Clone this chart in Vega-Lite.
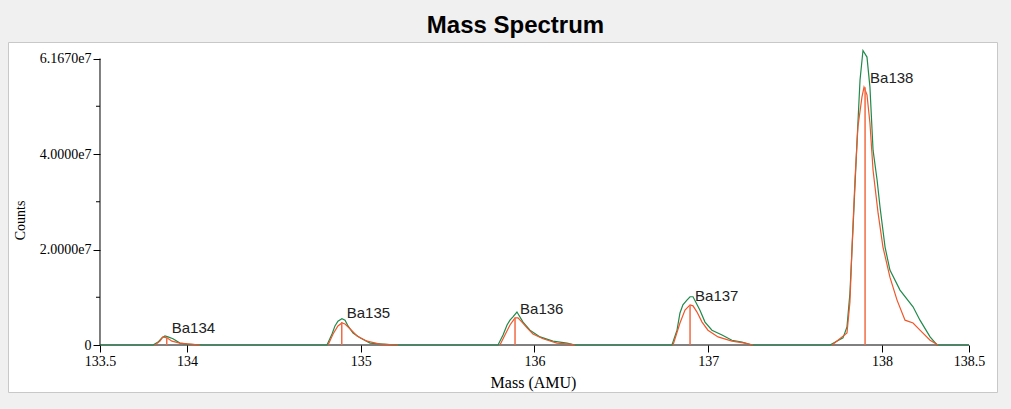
{
  "$schema": "https://vega.github.io/schema/vega-lite/v6.json",
  "autosize": "none",
  "padding": {"left": 8, "top": 42, "right": 14, "bottom": 17},
  "width": 989,
  "height": 350,
  "background": "#f0f0f0",
  "view": {"fill": "white", "stroke": "#c8c8c8", "strokeWidth": 1},
  "title": {"text": "Mass Spectrum", "font": "Liberation Sans", "fontSize": 24, "fontWeight": "bold", "color": "black", "anchor": "middle", "offset": 4, "dx": 13},
  "datasets": {
    "green": [
      {"mass": 133.5, "counts": 0},
      {"mass": 133.805, "counts": 0}, {"mass": 133.834, "counts": 600000}, {"mass": 133.857, "counts": 1500000}, {"mass": 133.874, "counts": 1900000}, {"mass": 133.891, "counts": 1700000}, {"mass": 133.92, "counts": 1300000}, {"mass": 133.96, "counts": 400000}, {"mass": 134.001, "counts": 200000}, {"mass": 134.093, "counts": 0},
      {"mass": 134.806, "counts": 0}, {"mass": 134.835, "counts": 2300000}, {"mass": 134.852, "counts": 4000000}, {"mass": 134.869, "counts": 5000000}, {"mass": 134.892, "counts": 5500000}, {"mass": 134.91, "counts": 5200000}, {"mass": 134.927, "counts": 4000000}, {"mass": 134.956, "counts": 2500000}, {"mass": 134.996, "counts": 1500000}, {"mass": 135.054, "counts": 400000}, {"mass": 135.128, "counts": 200000}, {"mass": 135.209, "counts": 0},
      {"mass": 135.79, "counts": 0}, {"mass": 135.819, "counts": 2100000}, {"mass": 135.842, "counts": 4200000}, {"mass": 135.859, "counts": 5200000}, {"mass": 135.876, "counts": 5900000}, {"mass": 135.899, "counts": 6900000}, {"mass": 135.934, "counts": 4800000}, {"mass": 135.974, "counts": 3100000}, {"mass": 136.032, "counts": 1700000}, {"mass": 136.106, "counts": 800000}, {"mass": 136.187, "counts": 400000}, {"mass": 136.233, "counts": 0},
      {"mass": 136.791, "counts": 0}, {"mass": 136.82, "counts": 3100000}, {"mass": 136.837, "counts": 6700000}, {"mass": 136.854, "counts": 8400000}, {"mass": 136.877, "counts": 9400000}, {"mass": 136.895, "counts": 10100000}, {"mass": 136.912, "counts": 10100000}, {"mass": 136.952, "counts": 7300000}, {"mass": 136.981, "counts": 4800000}, {"mass": 137.021, "counts": 3100000}, {"mass": 137.079, "counts": 2100000}, {"mass": 137.136, "counts": 1000000}, {"mass": 137.194, "counts": 600000}, {"mass": 137.251, "counts": 0},
      {"mass": 137.7, "counts": 0}, {"mass": 137.775, "counts": 1500000}, {"mass": 137.798, "counts": 3800000}, {"mass": 137.815, "counts": 10900000}, {"mass": 137.833, "counts": 24700000}, {"mass": 137.856, "counts": 42900000}, {"mass": 137.873, "counts": 55500000}, {"mass": 137.89, "counts": 61670000}, {"mass": 137.913, "counts": 60300000}, {"mass": 137.93, "counts": 54000000}, {"mass": 137.948, "counts": 40800000}, {"mass": 137.971, "counts": 34600000}, {"mass": 137.988, "counts": 28900000}, {"mass": 138.017, "counts": 20500000}, {"mass": 138.045, "counts": 15700000}, {"mass": 138.103, "counts": 11500000}, {"mass": 138.178, "counts": 8000000}, {"mass": 138.218, "counts": 5200000}, {"mass": 138.276, "counts": 1700000}, {"mass": 138.316, "counts": 0},
      {"mass": 138.5, "counts": 0}
    ],
    "red": [
      {"peak": "Ba134", "mass": 133.816, "counts": 0}, {"peak": "Ba134", "mass": 133.845, "counts": 800000}, {"peak": "Ba134", "mass": 133.862, "counts": 1700000}, {"peak": "Ba134", "mass": 133.885, "counts": 1500000}, {"peak": "Ba134", "mass": 133.914, "counts": 800000}, {"peak": "Ba134", "mass": 133.96, "counts": 400000}, {"peak": "Ba134", "mass": 134.075, "counts": 0},
      {"peak": "Ba135", "mass": 134.812, "counts": 0}, {"peak": "Ba135", "mass": 134.841, "counts": 2300000}, {"peak": "Ba135", "mass": 134.869, "counts": 4000000}, {"peak": "Ba135", "mass": 134.892, "counts": 4600000}, {"peak": "Ba135", "mass": 134.91, "counts": 4400000}, {"peak": "Ba135", "mass": 134.938, "counts": 3400000}, {"peak": "Ba135", "mass": 134.979, "counts": 1900000}, {"peak": "Ba135", "mass": 135.036, "counts": 800000}, {"peak": "Ba135", "mass": 135.111, "counts": 200000}, {"peak": "Ba135", "mass": 135.215, "counts": 0},
      {"peak": "Ba136", "mass": 135.801, "counts": 0}, {"peak": "Ba136", "mass": 135.83, "counts": 2100000}, {"peak": "Ba136", "mass": 135.859, "counts": 4200000}, {"peak": "Ba136", "mass": 135.888, "counts": 5700000}, {"peak": "Ba136", "mass": 135.905, "counts": 5700000}, {"peak": "Ba136", "mass": 135.928, "counts": 4800000}, {"peak": "Ba136", "mass": 135.957, "counts": 3600000}, {"peak": "Ba136", "mass": 135.991, "counts": 2300000}, {"peak": "Ba136", "mass": 136.049, "counts": 1300000}, {"peak": "Ba136", "mass": 136.129, "counts": 400000}, {"peak": "Ba136", "mass": 136.204, "counts": 200000}, {"peak": "Ba136", "mass": 136.233, "counts": 0},
      {"peak": "Ba137", "mass": 136.797, "counts": 0}, {"peak": "Ba137", "mass": 136.837, "counts": 4600000}, {"peak": "Ba137", "mass": 136.866, "counts": 7300000}, {"peak": "Ba137", "mass": 136.895, "counts": 8400000}, {"peak": "Ba137", "mass": 136.912, "counts": 8200000}, {"peak": "Ba137", "mass": 136.935, "counts": 6900000}, {"peak": "Ba137", "mass": 136.964, "counts": 4800000}, {"peak": "Ba137", "mass": 136.998, "counts": 3100000}, {"peak": "Ba137", "mass": 137.056, "counts": 1700000}, {"peak": "Ba137", "mass": 137.136, "counts": 800000}, {"peak": "Ba137", "mass": 137.211, "counts": 400000}, {"peak": "Ba137", "mass": 137.257, "counts": 0},
      {"peak": "Ba138", "mass": 137.712, "counts": 0}, {"peak": "Ba138", "mass": 137.798, "counts": 2500000}, {"peak": "Ba138", "mass": 137.815, "counts": 9000000}, {"peak": "Ba138", "mass": 137.827, "counts": 20500000}, {"peak": "Ba138", "mass": 137.844, "counts": 34600000}, {"peak": "Ba138", "mass": 137.861, "counts": 45700000}, {"peak": "Ba138", "mass": 137.884, "counts": 51900000}, {"peak": "Ba138", "mass": 137.896, "counts": 54000000}, {"peak": "Ba138", "mass": 137.913, "counts": 52400000}, {"peak": "Ba138", "mass": 137.93, "counts": 46500000}, {"peak": "Ba138", "mass": 137.948, "counts": 36600000}, {"peak": "Ba138", "mass": 137.977, "counts": 27600000}, {"peak": "Ba138", "mass": 138.005, "counts": 20500000}, {"peak": "Ba138", "mass": 138.045, "counts": 14200000}, {"peak": "Ba138", "mass": 138.086, "counts": 9400000}, {"peak": "Ba138", "mass": 138.132, "counts": 5200000}, {"peak": "Ba138", "mass": 138.178, "counts": 4600000}, {"peak": "Ba138", "mass": 138.218, "counts": 3100000}, {"peak": "Ba138", "mass": 138.276, "counts": 1000000}, {"peak": "Ba138", "mass": 138.322, "counts": 0}
    ],
    "sticks": [
      {"label": "Ba134", "mass": 133.884, "counts": 1700000},
      {"label": "Ba135", "mass": 134.891, "counts": 4800000},
      {"label": "Ba136", "mass": 135.888, "counts": 5700000},
      {"label": "Ba137", "mass": 136.895, "counts": 8400000},
      {"label": "Ba138", "mass": 137.902, "counts": 54000000}
    ],
    "axisLines": [
      {"x1": 133.5, "x2": 138.5, "y1": 0, "y2": 0},
      {"x1": 133.5, "x2": 133.5, "y1": 0, "y2": 60000000},
      {"x1": 133.477, "x2": 133.5, "y1": 10000000, "y2": 10000000},
      {"x1": 133.477, "x2": 133.5, "y1": 30000000, "y2": 30000000},
      {"x1": 133.477, "x2": 133.5, "y1": 50000000, "y2": 50000000}
    ]
  },
  "encoding": {
    "x": {
      "field": "mass", "type": "quantitative",
      "scale": {"domain": [132.97066, 138.66111], "nice": false, "zero": false},
      "axis": {
        "orient": "bottom", "offset": -47, "domain": false, "grid": false,
        "values": [133.5, 134, 135, 136, 137, 138, 138.5],
        "labelExpr": "datum.value % 1 == 0 ? format(datum.value, 'd') : format(datum.value, '.1f')",
        "tickSize": 7, "tickColor": "black", "tickWidth": 1,
        "labelFont": "Liberation Serif", "labelFontSize": 14, "labelColor": "black", "labelPadding": 2, "labelFlush": false,
        "title": "Mass (AMU)", "titleFont": "Liberation Serif", "titleFontSize": 16, "titleFontWeight": "normal", "titleColor": "black",
        "titleX": 525, "titleY": 42, "titleBaseline": "alphabetic", "titleAlign": "center"
      }
    },
    "y": {
      "field": "counts", "type": "quantitative",
      "scale": {"domain": [-9842900, 63455500], "nice": false, "zero": false},
      "axis": {
        "orient": "left", "offset": -92, "domain": false, "grid": false,
        "values": [0, 20000000, 40000000, 60000000],
        "labelExpr": "datum.value == 60000000 ? '6.1670e7' : datum.value == 0 ? '0' : format(datum.value / 10000000, '.4f') + 'e7'",
        "tickSize": 7, "tickColor": "black", "tickWidth": 1,
        "labelFont": "Liberation Serif", "labelFontSize": 14, "labelColor": "black", "labelPadding": 2, "labelFlush": false,
        "title": "Counts", "titleFont": "Liberation Serif", "titleFontSize": 14, "titleFontWeight": "normal", "titleColor": "black",
        "titleX": -80, "titleY": 178, "titleBaseline": "middle", "titleAlign": "center", "titleAngle": 270
      }
    }
  },
  "layer": [
    {
      "data": {"name": "axisLines"},
      "mark": {"type": "rule", "color": "black", "strokeWidth": 1},
      "encoding": {
        "x": {"field": "x1", "type": "quantitative"},
        "x2": {"field": "x2"},
        "y": {"field": "y1", "type": "quantitative"},
        "y2": {"field": "y2"}
      }
    },
    {
      "data": {"name": "green"},
      "mark": {"type": "line", "color": "#1f8a4c", "strokeWidth": 1.2},
      "encoding": {}
    },
    {
      "data": {"name": "red"},
      "mark": {"type": "line", "color": "#f0562a", "strokeWidth": 1.2},
      "encoding": {"detail": {"field": "peak"}}
    },
    {
      "data": {"name": "sticks"},
      "mark": {"type": "rule", "color": "#f26b45", "strokeWidth": 1.5},
      "encoding": {"y": {"datum": 0}, "y2": {"field": "counts"}}
    },
    {
      "data": {"name": "sticks"},
      "mark": {"type": "text", "align": "left", "baseline": "middle", "dx": 5, "dy": -9, "font": "Liberation Sans", "fontSize": 15, "color": "#222222"},
      "encoding": {"text": {"field": "label"}}
    }
  ]
}
